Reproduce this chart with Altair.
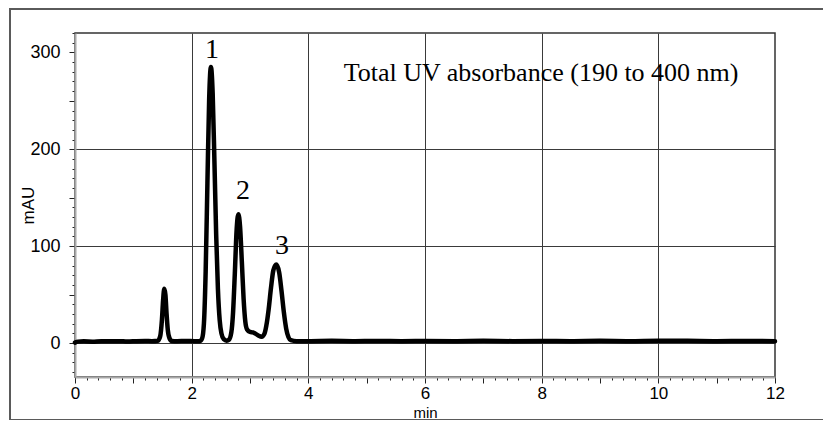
import altair as alt
import pandas as pd

# ---- chromatogram trace ----
time_min = [0.0, 0.05, 0.15, 0.3, 0.45, 0.6, 0.75, 0.9, 1.05, 1.2, 1.32, 1.42, 1.46, 1.49, 1.51,
            1.53, 1.55, 1.57, 1.59, 1.62, 1.66, 1.75, 1.9, 2.05, 2.14, 2.18, 2.21, 2.24, 2.27, 2.30,
            2.33, 2.36, 2.39, 2.42, 2.45, 2.48, 2.51, 2.55, 2.60, 2.64, 2.68, 2.71, 2.74, 2.77, 2.80,
            2.83, 2.86, 2.89, 2.92, 2.95, 3.00, 3.05, 3.10, 3.15, 3.20, 3.25, 3.28, 3.32, 3.36, 3.40,
            3.45, 3.50, 3.54, 3.58, 3.62, 3.66, 3.70, 3.80, 4.0, 4.4, 4.8, 5.2, 5.6, 6.0, 6.5, 7.0,
            7.5, 8.0, 8.5, 9.0, 9.5, 10.0, 10.5, 11.0, 11.5, 12.0]
mau = [0.5, 1.5, 1.8, 1.5, 2.0, 1.8, 2.0, 1.6, 2.0, 2.2, 2.0, 2.5, 7, 24, 44,
       56, 50, 30, 14, 5, 2.2, 2.0, 2.2, 2.0, 2.0, 5, 20, 74, 165, 252,
       285, 258, 188, 112, 56, 24, 10, 4, 2.5, 3.5, 11, 32, 72, 116, 133,
       120, 84, 46, 22, 14, 11.5, 11, 9.5, 7.5, 6.5, 10, 18, 35, 57, 75,
       81, 73, 54, 32, 15, 6, 3, 2, 2, 2.3, 2.0, 2.2, 2.0, 2.2, 2.0, 2.3,
       2.0, 2.2, 2.0, 2.3, 2.0, 2.4, 2.3, 2.0, 2.2, 2.0]

# ---- peak labels ----
peak_labels = ["1", "2", "3"]
peak_x = [2.35, 2.88, 3.55]
peak_y = [294, 149, 92]

# ---- annotation ----
note_text = ["Total UV absorbance (190 to 400 nm)"]
note_x = [7.99]
note_y = [270]

# ---- axes ----
X_DOMAIN = [0, 12]
Y_DOMAIN = [-35, 320]
x_minor = [round(i * 0.2, 1) for i in range(61)]
x_major = list(range(0, 13))
x_grid = [2, 4, 6, 8, 10]
y_minor = list(range(-30, 321, 10))
y_major = list(range(0, 301, 50))
y_grid = [0, 100, 200]

xs = alt.Scale(domain=X_DOMAIN, nice=False, zero=False)
ys = alt.Scale(domain=Y_DOMAIN, nice=False, zero=False)

trace_df = pd.DataFrame({"t": time_min, "mau": mau})
peaks_df = pd.DataFrame({"px": peak_x, "py": peak_y, "lab": peak_labels})
note_df = pd.DataFrame({"nx": note_x, "ny": note_y, "txt": note_text})

frame = alt.Chart(pd.DataFrame({"k": [0]})).mark_rect(
    fillOpacity=0, stroke="#5a5a5a", strokeWidth=2
).encode(x=alt.value(-65), x2=alt.value(780), y=alt.value(-24), y2=alt.value(387))

trace = alt.Chart(trace_df).mark_line(
    color="black", strokeWidth=4.5, interpolate="monotone", strokeJoin="round", strokeCap="round"
).encode(
    x=alt.X("t:Q", scale=xs, axis=alt.Axis(values=x_minor, tickSize=3, tickColor="#222",
                                           labels=False, domain=False, grid=False, title=None,
                                           orient="bottom")),
    y=alt.Y("mau:Q", scale=ys, axis=alt.Axis(values=y_minor, tickSize=3, tickColor="#222",
                                             labels=False, domain=False, grid=False, title=None,
                                             orient="left")),
)

peaks = alt.Chart(peaks_df).mark_text(
    font="Liberation Serif", fontSize=28, align="center", baseline="alphabetic", color="black"
).encode(
    x=alt.X("px:Q", scale=xs, axis=alt.Axis(values=x_grid, grid=True, gridColor="#3a3a3a",
                                            gridWidth=1, ticks=False, labels=False, domain=False,
                                            title=None, orient="bottom")),
    y=alt.Y("py:Q", scale=ys, axis=alt.Axis(values=y_grid, grid=True, gridColor="#3a3a3a",
                                            gridWidth=1, ticks=False, labels=False, domain=False,
                                            title=None, orient="left")),
    text="lab:N",
)

note = alt.Chart(note_df).mark_text(
    font="Liberation Serif", fontSize=26, align="center", baseline="alphabetic", color="black"
).encode(
    x=alt.X("nx:Q", scale=xs, axis=alt.Axis(
        values=x_major, tickSize=6, tickColor="#222",
        labelExpr="datum.value % 2 == 0 ? datum.label : ''",
        labelFont="Liberation Sans", labelFontSize=17, labelColor="black", labelPadding=2,
        labelFlush=False, labelOverlap=False,
        domain=True, domainColor="#a8a8a8", domainWidth=2, grid=False,
        title="min", titleFont="Liberation Sans", titleFontSize=15, titleFontWeight="normal",
        titleColor="black", titleX=350, titleY=40, titleAlign="center", titleBaseline="alphabetic",
        orient="bottom")),
    y=alt.Y("ny:Q", scale=ys, axis=alt.Axis(
        values=y_major, tickSize=6, tickColor="#222",
        labelExpr="datum.value % 100 == 0 ? datum.label : ''",
        labelFont="Liberation Sans", labelFontSize=18, labelColor="black", labelPadding=9,
        labelFlush=False, labelOverlap=False,
        domain=True, domainColor="#a8a8a8", domainWidth=2, grid=False,
        title="mAU", titleFont="Liberation Sans", titleFontSize=17, titleFontWeight="normal",
        titleColor="black", titleX=-47, titleY=172, titleAlign="center", titleBaseline="middle",
        titleAngle=270, orient="left")),
    text="txt:N",
)

chart = alt.layer(frame, trace, peaks, note).resolve_axis(
    x="independent", y="independent"
).properties(
    width=700, height=344,
    autosize=alt.AutoSizeParams(type="none"),
    padding={"left": 67, "top": 25, "right": 48, "bottom": 43},
    background="white",
).configure_view(stroke="#333", strokeWidth=1.5)

chart.save("out.html", embed_options={"renderer": "svg", "actions": False})
